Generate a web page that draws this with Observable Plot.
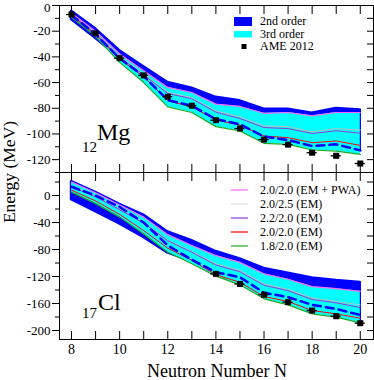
<!DOCTYPE html>
<html><head><meta charset="utf-8">
<script src="https://cdn.jsdelivr.net/npm/d3@7"></script>
<script src="https://cdn.jsdelivr.net/npm/@observablehq/plot@0.6"></script>
<style>
body{margin:0;background:#fff;}
#wrap{position:relative;width:374px;height:380px;overflow:hidden;font-family:"Liberation Serif","Times New Roman",serif;}
#wrap svg{position:absolute;left:0;}
</style></head><body><div id="wrap"></div>
<script>
// Neutron numbers
const N = [8, 9, 10, 11, 12, 13, 14, 15, 16, 17, 18, 19, 20];

// 12Mg panel
const mgBlueHi = [-4.4, -18.2, -35.2, -47.7, -59.9, -64.3, -71.5, -74.2, -80.7, -80.7, -83.9, -80.2, -81.3];
const mgBlueLo = [-11, -25.5, -41, -57, -75.5, -80, -91, -94.5, -104, -105, -109.5, -110, -112.5];
const mgPink   = [-6, -20, -37.8, -50.8, -63.8, -67.7, -76.8, -78.6, -83.9, -83.3, -85.9, -83.3, -83.3];
const mgGray   = [-7, -21.6, -39.8, -53.4, -67.7, -71.6, -82, -86.7, -93.8, -94.3, -98.4, -95.8, -96.9];
const mgPurple = [-7.3, -22, -40.5, -54, -68.5, -72.6, -83, -88, -95, -95.8, -99.6, -97.5, -99.4];
const mgRed    = [-7.8, -22.7, -41.7, -55.5, -74.2, -78.9, -89, -93.2, -101.6, -102.9, -106.8, -105.5, -108.9];
const mgDash   = [-7.6, -22.4, -41.2, -55, -73.7, -78, -88.5, -92.4, -102.1, -104.7, -109.4, -108.1, -112.8];
const mgGreen  = [-9.1, -24.2, -44.3, -60, -78.9, -83.3, -94.3, -97.7, -107.3, -108.1, -112.5, -113.3, -115.9];
const mgAmeN   = [8, 9, 10, 11, 12, 13, 14, 15, 16, 17, 18, 19, 20];
const mgAme    = [-7, -21.6, -41, -54.4, -71, -78, -89.3, -95.8, -104.4, -108.3, -114.6, -117, -123];

// 17Cl panel
const clBlueHi = [20.5, 4.5, -13, -29, -54, -67, -83, -94, -108, -115, -122, -126, -129];
const clBlueLo = [-6, -24, -42, -62, -85, -98, -116.5, -129, -150, -159, -172, -177, -185.5];
const clPink   = [20, 4, -14, -32, -58, -74, -89, -99, -116, -124, -135, -138, -142];
const clGray   = [14, -1, -20, -40, -66, -83, -101, -111, -131, -139, -152, -157, -162];
const clPurple = [13, -2, -21, -41, -67, -84, -103, -113, -133, -141, -154, -159, -166];
const clDash   = [13, 0, -17, -40, -74, -95, -113.6, -121, -144, -150.6, -162, -168, -177];
const clRed    = [8, -8, -28, -52, -78, -96, -117.5, -128.4, -149.6, -157, -170.4, -175.3, -181.7];
const clGreen  = [5, -12, -32, -57, -84, -101, -119.5, -132.3, -153, -162, -175.3, -180.2, -188.6];
const clAmeN   = [14, 15, 16, 17, 18, 19, 20];
const clAme    = [-116, -131, -147, -158, -170.4, -178.8, -189.1];

// ticks
const xLabelTicks = [8, 10, 12, 14, 16, 18, 20];
const mgYMajor = [0, -20, -40, -60, -80, -100, -120];
const mgYMinor = [-10, -30, -50, -70, -90, -110, -130];
const mgYRight = [0, -10, -20, -30, -40, -50, -60, -70, -80, -90, -100, -110, -120, -130];
const clYMajor = [0, -40, -80, -120, -160, -200];
const clYMinor = [20, -20, -60, -100, -140, -180];
const clYRight = [20, 0, -20, -40, -60, -80, -100, -120, -140, -160, -180, -200];

const legendTop = ["2nd order", "3rd order", "AME 2012"];
const legendBottom = ["2.0/2.0 (EM + PWA)", "2.0/2.5 (EM)", "2.2/2.0 (EM)", "2.0/2.0 (EM)", "1.8/2.0 (EM)"];

const C = {blue: "#0000ff", cyan: "#00ffff", pink: "#ff66ff", gray: "#bdbdbd", purple: "#9437d8", red: "#ff0000", green: "#1faa1f"};
const FONT = "'Liberation Serif', 'Times New Roman', serif";

function rowsOf(hi, lo, pink, gray, purple, red, dash, green) {
  return N.map((n, i) => ({N: n, hi: hi[i], lo: lo[i], pink: pink[i], gray: gray[i], purple: purple[i], red: red[i], dash: dash[i], green: green[i]}));
}
const mgRows = rowsOf(mgBlueHi, mgBlueLo, mgPink, mgGray, mgPurple, mgRed, mgDash, mgGreen);
const clRows = rowsOf(clBlueHi, clBlueLo, clPink, clGray, clPurple, clRed, clDash, clGreen);
const mgPts = mgAmeN.map((n, i) => ({N: n, E: mgAme[i]}));
const clPts = clAmeN.map((n, i) => ({N: n, E: clAme[i]}));

function panel({rows, pts, ydom, yMajor, yMinor, yRight, height, marginTop, marginBottom, bottomLabels}) {
  const edge = ydom[1];
  const inner = yMajor.filter(v => v !== edge);
  const atEdge = yMajor.filter(v => v === edge);
  const marks = [
    Plot.areaY(rows, {x: "N", y1: "lo", y2: "hi", fill: C.blue, stroke: C.blue, strokeWidth: 2.5}),
    Plot.areaY(rows, {x: "N", y1: "green", y2: "pink", fill: C.cyan}),
    Plot.lineY(rows, {x: "N", y: "gray", stroke: C.gray, strokeWidth: 1}),
    Plot.lineY(rows, {x: "N", y: "purple", stroke: C.purple, strokeWidth: 1}),
    Plot.lineY(rows, {x: "N", y: "red", stroke: C.red, strokeWidth: 1}),
    Plot.lineY(rows, {x: "N", y: "green", stroke: C.green, strokeWidth: 1.2}),
    Plot.lineY(rows, {x: "N", y: "pink", stroke: C.pink, strokeWidth: 1.2}),
    Plot.lineY(rows, {x: "N", y: "dash", stroke: C.blue, strokeWidth: 2.5, strokeDasharray: "8,5"}),
    Plot.ruleY(pts, {x1: d => d.N - 0.21, x2: d => d.N + 0.21, y: "E", stroke: "#000", strokeWidth: 1.3}),
    Plot.dot(pts, {x: "N", y: "E", symbol: "square", fill: "#000", r: 3.4}),
    Plot.frame({stroke: "#000", strokeWidth: 1}),
    Plot.axisY({anchor: "left", ticks: inner, tickSize: 7, tickPadding: 2, fontSize: 13, tickFormat: d => String(d), label: null}),
    Plot.axisY({anchor: "left", ticks: yMinor, tickSize: 4, tickFormat: () => "", label: null}),
    Plot.axisY({anchor: "right", ticks: yRight, tickSize: 7, dx: -7, tickFormat: () => "", label: null}),
    Plot.axisX({anchor: "top", ticks: N, tickSize: 8, dy: 8, tickFormat: () => "", label: null}),
    Plot.axisX({anchor: "bottom", ticks: N, tickSize: 8, dy: -8, tickFormat: () => "", label: null})
  ];
  if (atEdge.length) {
    marks.push(Plot.axisY({anchor: "left", ticks: atEdge, tickSize: 7, tickFormat: () => "", label: null}));
    marks.push(Plot.axisY({anchor: "left", ticks: atEdge, tickSize: 0, tickPadding: 9, dy: 2, fontSize: 13, tickFormat: d => String(d), label: null}));
  }
  if (bottomLabels) marks.push(Plot.axisX({anchor: "bottom", ticks: xLabelTicks, tickSize: 0, tickPadding: 5, fontSize: 14, tickFormat: d => String(d), label: null}));
  return Plot.plot({
    width: 374, height, marginLeft: 59, marginRight: 1, marginTop, marginBottom,
    x: {domain: [7.5, 20.55]},
    y: {domain: ydom},
    style: {fontFamily: FONT, background: "transparent", color: "#000", overflow: "visible"},
    marks
  });
}

const wrap = document.getElementById("wrap");
const top1 = panel({rows: mgRows, pts: mgPts, ydom: [-130, 0], yMajor: mgYMajor, yMinor: mgYMinor, yRight: mgYRight, height: 175, marginTop: 5, marginBottom: 3, bottomLabels: false});
top1.style.top = "0px";
const bot1 = panel({rows: clRows, pts: clPts, ydom: [-213.3, 34.1], yMajor: clYMajor, yMinor: clYMinor, yRight: clYRight, height: 210, marginTop: 2, marginBottom: 41, bottomLabels: true});
bot1.style.top = "170px";
wrap.appendChild(bot1);
wrap.appendChild(top1);

// overlay: titles, panel labels, legends
const ov = d3.select(wrap).append("svg").attr("width", 374).attr("height", 380)
  .style("top", "0px").style("font-family", FONT);

ov.append("text").attr("x", 217).attr("y", 377).attr("text-anchor", "middle").attr("font-size", 18).text("Neutron Number N");
ov.append("text").attr("transform", "translate(15,172) rotate(-90)").attr("text-anchor", "middle").attr("font-size", 17.5).text("Energy (MeV)");

ov.append("text").attr("x", 82).attr("y", 152).attr("font-size", 15).text("12");
ov.append("text").attr("x", 97).attr("y", 140).attr("font-size", 24).text("Mg");
ov.append("text").attr("x", 82).attr("y", 318).attr("font-size", 15).text("17");
ov.append("text").attr("x", 98).attr("y", 310).attr("font-size", 24).text("Cl");

// top legend
ov.append("rect").attr("x", 234).attr("y", 17).attr("width", 18).attr("height", 9).attr("fill", C.blue);
ov.append("rect").attr("x", 234).attr("y", 31).attr("width", 18).attr("height", 6.5).attr("fill", C.cyan);
ov.append("rect").attr("x", 241.5).attr("y", 44).attr("width", 5).attr("height", 5).attr("fill", "#000");
legendTop.forEach((t, i) => ov.append("text").attr("x", 260).attr("y", 25 + i * 12.5).attr("font-size", 12).text(t));

// bottom legend
const lc = [C.pink, "#dddddd", C.purple, C.red, C.green];
legendBottom.forEach((t, i) => {
  const y = 190 + i * 14;
  ov.append("line").attr("x1", 231).attr("x2", 248).attr("y1", y).attr("y2", y).attr("stroke", lc[i]).attr("stroke-width", 1.2);
  ov.append("text").attr("x", 260).attr("y", y + 4).attr("font-size", 12).text(t);
});
</script></body></html>
